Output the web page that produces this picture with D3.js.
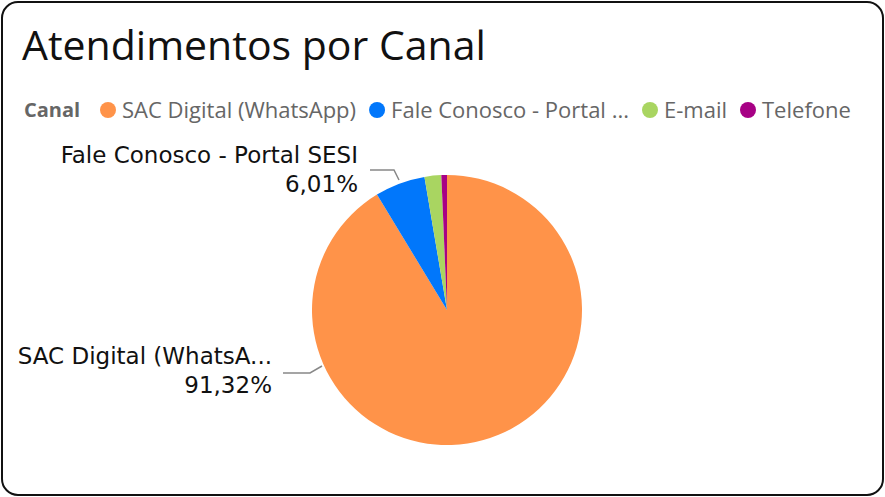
<!DOCTYPE html>
<html>
<head>
<meta charset="utf-8">
<script src="https://cdn.jsdelivr.net/npm/d3@7"></script>
<style>
  body { margin: 0; background: #fff; }
</style>
</head>
<body>
<svg></svg>
<script>
var width = 885;
var height = 497;

// data
var canais = ["SAC Digital (WhatsApp)", "Fale Conosco - Portal SESI", "E-mail", "Telefone"];
var legendLabels = ["SAC Digital (WhatsApp)", "Fale Conosco - Portal ...", "E-mail", "Telefone"];
var percentuais = [91.32, 6.01, 2.0, 0.67];
var cores = ["#FF9349", "#0177FB", "#A9D561", "#A70185"];

var svg = d3.select("svg")
  .attr("width", width)
  .attr("height", height);

// card frame
svg.append("rect")
  .attr("x", 2).attr("y", 2)
  .attr("width", width - 4).attr("height", height - 4)
  .attr("rx", 16)
  .style("fill", "#fff")
  .style("stroke", "#111")
  .style("stroke-width", 2);

svg.append("text")
  .attr("x", 22).attr("y", 60)
  .style("font-family", "'Open Sans', sans-serif")
  .style("font-size", "41px")
  .style("fill", "#111")
  .text("Atendimentos por Canal");

// legend
var legend = svg.append("g").attr("transform", "translate(24,110)");
legend.append("text")
  .attr("y", 7)
  .style("font-family", "'Open Sans', sans-serif")
  .style("font-size", "20px")
  .style("font-weight", "bold")
  .style("fill", "#666")
  .text("Canal");

var lx = 76;
legendLabels.forEach(function(t, i) {
  legend.append("circle")
    .attr("cx", lx + 8).attr("cy", 0).attr("r", 8)
    .style("fill", cores[i]);
  var txt = legend.append("text")
    .attr("x", lx + 22).attr("y", 7.5)
    .style("font-family", "'Open Sans', sans-serif")
    .style("font-size", "22px")
    .style("fill", "#666")
    .text(t);
  lx += 22 + txt.node().getComputedTextLength() + 13;
});

// pie
var cx = 447, cy = 310, r = 135;
var pie = d3.pie().sort(null).value(function(d) { return d; });
var arc = d3.arc().innerRadius(0).outerRadius(r);
var arcs = pie(percentuais);

var g = svg.append("g").attr("transform", "translate(" + cx + "," + cy + ")");
g.selectAll("path")
  .data(arcs)
  .enter().append("path")
  .attr("d", arc)
  .style("fill", function(d, i) { return cores[i]; });

// data labels
var fmt = function(v) { return v.toFixed(2).replace(".", ",") + "%"; };
var labelInfo = [
  { i: 0, name: "SAC Digital (WhatsA...", tx: 272, ty: 364, line: [[283, 373], [310, 373], [322, 366]] },
  { i: 1, name: "Fale Conosco - Portal SESI", tx: 358, ty: 163, line: [[370, 170], [394, 170], [399, 180]] }
];
labelInfo.forEach(function(l) {
  svg.append("path")
    .attr("d", d3.line()(l.line))
    .style("fill", "none")
    .style("stroke", "#888")
    .style("stroke-width", 1.5);
  var t = svg.append("text")
    .attr("text-anchor", "end")
    .style("font-family", "'DejaVu Sans', sans-serif")
    .style("font-size", "23px")
    .style("fill", "#111");
  t.append("tspan").attr("x", l.tx).attr("y", l.ty).text(l.name);
  t.append("tspan").attr("x", l.tx).attr("y", l.ty + 29).text(fmt(percentuais[l.i]));
});
</script>
</body>
</html>
